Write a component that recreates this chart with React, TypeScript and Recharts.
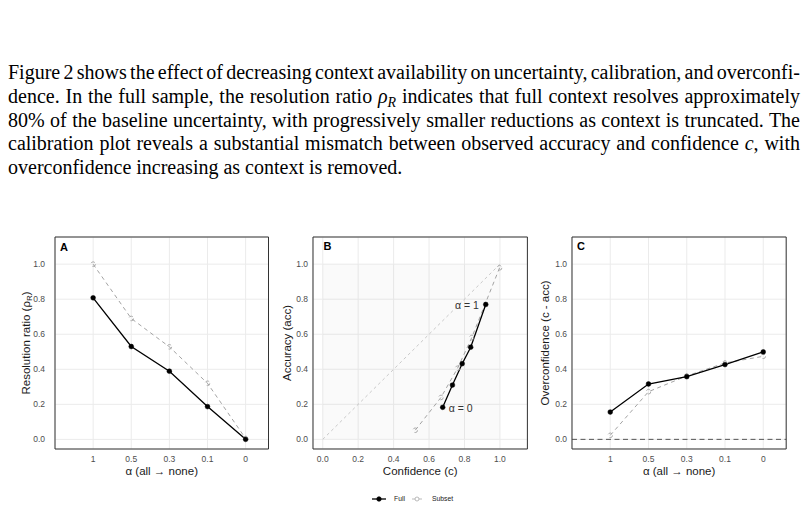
import React from 'react';
import { CartesianGrid, Legend, LabelList, Line, LineChart, ReferenceArea, ReferenceLine, XAxis, YAxis } from 'recharts';

// context availability levels, from all context to none
const alphaLabels = ['1', '0.5', '0.3', '0.1', '0'];
const alphaPos = [1, 2, 3, 4, 5];

// A: resolution ratio
const resolutionFull = [0.808, 0.53, 0.389, 0.187, 0.0];
const resolutionSubset = [1.0, 0.69, 0.528, 0.32, 0.005];

// B: calibration (ordered alpha = 1 ... 0)
const confidenceFull = [0.92, 0.835, 0.787, 0.732, 0.677];
const accuracyFull = [0.77, 0.526, 0.432, 0.31, 0.183];
const confidenceSubset = [0.998, 0.841, 0.761, 0.667, 0.522];
const accuracySubset = [0.979, 0.581, 0.406, 0.239, 0.052];

// C: overconfidence
const overconfFull = [0.156, 0.316, 0.358, 0.427, 0.499];
const overconfSubset = [0.023, 0.272, 0.362, 0.436, 0.474];

const unitTicks = [0, 0.2, 0.4, 0.6, 0.8, 1.0];

const SANS = '"Liberation Sans", Arial, Helvetica, sans-serif';
const unitDomain: [number, number] = [-0.055, 1.155];
const alphaDomain: [number, number] = [0, 5.6];

const resolutionData = alphaPos.map((pos, i) => ({
  pos, alpha: alphaLabels[i], full: resolutionFull[i], subset: resolutionSubset[i],
}));
const overconfData = alphaPos.map((pos, i) => ({
  pos, alpha: alphaLabels[i], full: overconfFull[i], subset: overconfSubset[i],
}));
const calibFull = confidenceFull.map((c, i) => ({ conf: c, acc: accuracyFull[i], alpha: alphaLabels[i] }));
const calibSubset = confidenceSubset.map((c, i) => ({ conf: c, acc: accuracySubset[i], alpha: alphaLabels[i] }));

const tickStyle = { fontSize: 8.5, fill: '#4d4d4d', fontFamily: SANS };

const fullDot = { r: 2.4, fill: '#000', stroke: '#000', strokeWidth: 0.5 };
const subsetDot = { r: 2.3, fill: 'none', stroke: '#999', strokeWidth: 0.8 };

// y title (rotated) plus the panel letter in the top-left corner
const yTitle = (title: React.ReactNode, letter: string, titleDx: number, letterDx: number) =>
  (props: any) => {
    const vb = props.viewBox;
    const left = vb.x + vb.width;
    const cx = left + titleDx;
    const cy = vb.y + vb.height / 2;
    return (
      <g>
        <text x={cx} y={cy} transform={`rotate(-90, ${cx}, ${cy})`} textAnchor="middle"
          dominantBaseline="central" fontSize={11.5} fill="#1a1a1a" fontFamily={SANS}>
          {title}
        </text>
        <text x={left + letterDx} y={vb.y + 13.5} fontSize={11} fontWeight="bold" fill="#000" fontFamily={SANS}>
          {letter}
        </text>
      </g>
    );
  };

const xTitle = (title: React.ReactNode) => (props: any) => {
  const vb = props.viewBox;
  return (
    <text x={vb.x + vb.width / 2} y={vb.y + 26} textAnchor="middle" fontSize={11.5} fill="#1a1a1a" fontFamily={SANS}>
      {title}
    </text>
  );
};

const alphaLabel = (props: any) => {
  const { x, y, index } = props;
  if (index === 0) {
    return <text x={x - 7} y={y + 1} textAnchor="end" dominantBaseline="central" fontSize={10.5} fill="#333" fontFamily={SANS}>α = 1</text>;
  }
  if (index === alphaLabels.length - 1) {
    return <text x={x + 6} y={y + 1} textAnchor="start" dominantBaseline="central" fontSize={10.5} fill="#333" fontFamily={SANS}>α = 0</text>;
  }
  return null;
};

const legendOrder = ['Full', 'Subset'];

const renderLegend = (props: any) => {
  const items = [...(props.payload || [])].sort(
    (a: any, b: any) => legendOrder.indexOf(a.value) - legendOrder.indexOf(b.value),
  );
  let x = 4;
  return (
    <svg width={90} height={12} style={{ display: 'block', overflow: 'visible' }}>
      {items.map((item: any) => {
        const full = item.value === 'Full';
        const x0 = x;
        const lineW = full ? 14 : 10;
        x += full ? 40 : 0;
        return (
          <g key={item.value}>
            <line x1={x0} x2={x0 + lineW} y1={6} y2={6} stroke={full ? '#000' : '#aaa'} strokeWidth={full ? 1.3 : 0.8} />
            <circle cx={x0 + lineW / 2} cy={6} r={full ? 2.2 : 2} fill={full ? '#000' : '#fff'} stroke={full ? '#000' : '#aaa'} strokeWidth={0.8} />
            <text x={x0 + (full ? 22 : 20)} y={8.3} fontSize={6.8} fill="#1a1a1a" fontFamily={SANS}>{item.value}</text>
          </g>
        );
      })}
    </svg>
  );
};

const frame = (x: [number, number], y: [number, number]) => (
  <ReferenceArea x1={x[0]} x2={x[1]} y1={y[0]} y2={y[1]} fill="none" stroke="#333" strokeWidth={1} ifOverflow="visible" />
);

const chartMargin = { top: 12, right: 5, bottom: 0, left: 0 };

function AlphaPanel({ data, left, width, title, letter, tickGap, titleDx, letterDx, zeroLine }: any) {
  return (
    <div style={{ position: 'absolute', left, top: 225 }}>
      <LineChart width={width} height={255} data={data} margin={chartMargin}>
        <CartesianGrid stroke="#ebebeb" strokeWidth={1} />
        <XAxis type="number" dataKey="pos" domain={alphaDomain} ticks={alphaPos} interval={0}
          tickFormatter={(v: number) => alphaLabels[v - 1]} allowDataOverflow height={31}
          axisLine={false} tickLine={false} tickSize={5} tickMargin={2} tick={tickStyle}
          label={{ content: xTitle('α (all → none)') }} />
        <YAxis type="number" domain={unitDomain} ticks={unitTicks} interval={0} allowDataOverflow width={55}
          tickFormatter={(v: number) => v.toFixed(1)} axisLine={false} tickLine={false}
          tickSize={tickGap - 2} tickMargin={2} tick={tickStyle}
          label={{ content: yTitle(title, letter, titleDx, letterDx) }} />
        {zeroLine && <ReferenceLine y={0} stroke="#444" strokeWidth={0.9} strokeDasharray="5 3.5" />}
        <Line dataKey="subset" name="Subset" stroke="#999" strokeWidth={0.9} strokeDasharray="4 3.5"
          dot={subsetDot} activeDot={false} isAnimationActive={false} />
        <Line dataKey="full" name="Full" stroke="#000" strokeWidth={1.3}
          dot={fullDot} activeDot={false} isAnimationActive={false} />
        {frame(alphaDomain, unitDomain)}
      </LineChart>
    </div>
  );
}

function CalibrationPanel() {
  return (
    <div style={{ position: 'absolute', left: 258.3, top: 225 }}>
      <LineChart width={274.4} height={255} margin={chartMargin}>
        <CartesianGrid stroke="#ebebeb" strokeWidth={1} />
        <XAxis type="number" dataKey="conf" domain={unitDomain} ticks={unitTicks} interval={0} allowDataOverflow
          height={31} tickFormatter={(v: number) => v.toFixed(1)} axisLine={false} tickLine={false}
          tickSize={5} tickMargin={2} tick={tickStyle} label={{ content: xTitle('Confidence (c)') }} />
        <YAxis type="number" dataKey="acc" domain={unitDomain} ticks={unitTicks} interval={0} allowDataOverflow
          width={55} tickFormatter={(v: number) => v.toFixed(1)} axisLine={false} tickLine={false}
          tickSize={3} tickMargin={2} tick={tickStyle}
          label={{ content: yTitle('Accuracy (acc)', 'B', -26, 10.5) }} />
        <ReferenceArea x1={0} x2={1} y1={0} y2={1} fill="#000" fillOpacity={0.018} stroke="none" />
        <ReferenceLine segment={[{ x: 0, y: 0 }, { x: 1, y: 1 }]} stroke="#bbb" strokeWidth={0.8} strokeDasharray="3 3" />
        <Line data={calibSubset} dataKey="acc" name="Subset" stroke="#999" strokeWidth={0.9} strokeDasharray="4 3.5"
          dot={subsetDot} activeDot={false} isAnimationActive={false} />
        <Line data={calibFull} dataKey="acc" name="Full" stroke="#000" strokeWidth={1.3}
          dot={fullDot} activeDot={false} isAnimationActive={false}>
          <LabelList dataKey="alpha" content={alphaLabel} />
        </Line>
        {frame(unitDomain, unitDomain)}
        <Legend content={renderLegend} layout="horizontal" verticalAlign="middle" align="center"
          wrapperStyle={{ left: 368 - 258.3, top: 493 - 225, width: 90, height: 12 }} />
      </LineChart>
    </div>
  );
}

const justified: React.CSSProperties = { textAlign: 'justify', textAlignLast: 'justify' };
const sub: React.CSSProperties = { fontSize: '0.7em', lineHeight: 0, verticalAlign: '-0.25em' };

export default function App() {
  return (
    <div style={{ position: 'absolute', left: 0, top: 0, width: 807, height: 510, background: '#fff' }}>
      <div style={{
        position: 'absolute', left: 8, top: 61, width: 792, fontFamily: '"Liberation Serif", "Times New Roman", serif',
        fontSize: 20, lineHeight: '23.8px', color: '#000',
      }}>
        <div style={{ ...justified, wordSpacing: '-2px' }}>Figure 2 shows the effect of decreasing context availability on uncertainty, calibration, and overconfi-</div>
        <div style={justified}>dence. In the full sample, the resolution ratio <i>ρ</i><span style={sub}><i>R</i></span> indicates that full context resolves approximately</div>
        <div style={{ ...justified, wordSpacing: '-0.5px' }}>80% of the baseline uncertainty, with progressively smaller reductions as context is truncated. The</div>
        <div style={justified}>calibration plot reveals a substantial mismatch between observed accuracy and confidence <i>c</i>, with</div>
        <div>overconfidence increasing as context is removed.</div>
      </div>

      <AlphaPanel data={resolutionData} left={0} width={273.5} letter="A" tickGap={10} titleDx={-29} letterDx={5}
        title={<><tspan>Resolution ratio (ρ</tspan><tspan fontSize={8} dy={2.5}>R</tspan><tspan dy={-2.5}>)</tspan></>} />
      <CalibrationPanel />
      <AlphaPanel data={overconfData} left={516.5} width={274.2} letter="C" tickGap={5} titleDx={-26.5} letterDx={5}
        title="Overconfidence (c - acc)" zeroLine />
    </div>
  );
}
